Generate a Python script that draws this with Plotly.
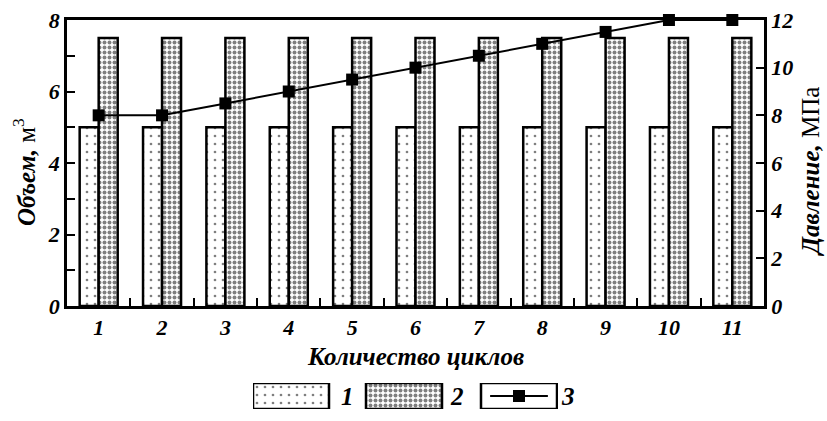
import plotly.graph_objects as go

# Data
cycles = ["1", "2", "3", "4", "5", "6", "7", "8", "9", "10", "11"]
volume_1 = [5, 5, 5, 5, 5, 5, 5, 5, 5, 5, 5]
volume_2 = [7.5, 7.5, 7.5, 7.5, 7.5, 7.5, 7.5, 7.5, 7.5, 7.5, 7.5]
pressure_3 = [8, 8, 8.5, 9, 9.5, 10, 10.5, 11, 11.5, 12, 12]
legend_labels = ["1", "2", "3"]

W, H = 827, 421
FONT = "Liberation Serif, Times New Roman, serif"

# plot area in pixels
PL, PR, PT, PB = 67, 764, 20, 306


def px(x):
    return x / W


def py(y):
    return 1 - y / H


tickfont = dict(family=FONT, size=22, color="black", weight="bold", style="italic")

PAT1 = dict(shape=".", fgcolor="black", bgcolor="white", size=8, solidity=0.09)
PAT2 = dict(shape=".", fgcolor="black", bgcolor="white", size=5, solidity=0.5)
OUTLINE = dict(color="black", width=2.5)

fig = go.Figure()

fig.add_trace(go.Bar(
    x=cycles, y=volume_1, name="1", showlegend=False,
    marker=dict(color="white", line=OUTLINE, pattern=PAT1),
))
fig.add_trace(go.Bar(
    x=cycles, y=volume_2, name="2", showlegend=False,
    marker=dict(color="white", line=OUTLINE, pattern=PAT2),
))
fig.add_trace(go.Scatter(
    x=cycles, y=pressure_3, name="3", yaxis="y2", showlegend=False,
    mode="lines+markers", line=dict(color="black", width=2),
    marker=dict(symbol="square", size=12, color="black"),
    cliponaxis=False,
))

# legend swatches drawn on their own small axes
LX0, LX1, LY0, LY1 = 253, 558, 383, 409
span = LX1 - LX0
sw_w = 76 / span
sw_centers = [38 / span, (366 + 38 - LX0) / span, (480 + 39 - LX0) / span]
fig.add_trace(go.Bar(
    x=[sw_centers[0]], y=[1], width=[sw_w], xaxis="x3", yaxis="y3", showlegend=False,
    marker=dict(color="white", line=OUTLINE, pattern=PAT1), hoverinfo="skip",
))
fig.add_trace(go.Bar(
    x=[sw_centers[1]], y=[1], width=[sw_w], xaxis="x3", yaxis="y3", showlegend=False,
    marker=dict(color="white", line=OUTLINE, pattern=PAT2), hoverinfo="skip",
))
fig.add_trace(go.Bar(
    x=[sw_centers[2]], y=[1], width=[sw_w], xaxis="x3", yaxis="y3", showlegend=False,
    marker=dict(color="white", line=OUTLINE), hoverinfo="skip",
))
fig.add_trace(go.Scatter(
    x=[sw_centers[2] - sw_w * 0.38, sw_centers[2] + sw_w * 0.38], y=[0.5, 0.5],
    xaxis="x3", yaxis="y3", mode="lines", line=dict(color="black", width=2),
    showlegend=False, hoverinfo="skip",
))
fig.add_trace(go.Scatter(
    x=[sw_centers[2]], y=[0.5], xaxis="x3", yaxis="y3", mode="markers",
    marker=dict(symbol="square", size=12, color="black"),
    showlegend=False, hoverinfo="skip",
))

fig.update_layout(
    width=W, height=H,
    margin=dict(l=0, r=0, t=0, b=0, pad=0, autoexpand=False),
    paper_bgcolor="white", plot_bgcolor="white",
    barmode="group", bargap=0.4, bargroupgap=0,
    showlegend=False,
    xaxis=dict(
        domain=[px(PL), px(PR)], anchor="y", automargin=False,
        type="category", range=[-0.5, len(cycles) - 0.5], tickfont=tickfont,
        showline=True, linecolor="black", linewidth=2.5, mirror=True,
        ticks="inside", tickson="boundaries", ticklen=8, tickwidth=2, tickcolor="black",
        showgrid=False, zeroline=False,
    ),
    yaxis=dict(
        domain=[py(PB), py(PT)], anchor="x", automargin=False,
        range=[0, 8], dtick=2, tickfont=tickfont,
        showline=True, linecolor="black", linewidth=2.5,
        ticks="inside", ticklen=8, tickwidth=2, tickcolor="black",
        minor=dict(dtick=1, ticks="inside", ticklen=8, tickwidth=2, tickcolor="black"),
        showgrid=False, zeroline=False,
    ),
    yaxis2=dict(
        overlaying="y", side="right", anchor="x", automargin=False,
        range=[0, 12], dtick=2, tickfont=tickfont,
        showline=True, linecolor="black", linewidth=2.5,
        ticks="inside", ticklen=8, tickwidth=2, tickcolor="black",
        showgrid=False, zeroline=False,
    ),
    xaxis3=dict(
        domain=[px(LX0), px(LX1)], anchor="y3", range=[0, 1], automargin=False,
        visible=False, fixedrange=True,
    ),
    yaxis3=dict(
        domain=[py(LY1), py(LY0)], anchor="x3", range=[0, 1], automargin=False,
        visible=False, fixedrange=True,
    ),
)

title_font = dict(family=FONT, size=25, color="black")
annotations = [
    dict(text="<b><i>Объем,</i></b> м<sup>3</sup>", x=px(24), y=py(172),
         textangle=-90, font=title_font),
    dict(text="<b><i>Давление,</i></b> МПа", x=px(810), y=py(172),
         textangle=-90, font=title_font),
    dict(text="<b><i>Количество циклов</i></b>", x=px((PL + PR) / 2), y=py(356),
         font=title_font),
]
for lbl, xc in zip(legend_labels, [347, 457, 568]):
    annotations.append(dict(text=f"<b><i>{lbl}</i></b>", x=px(xc), y=py(396), font=title_font))
for a in annotations:
    a.update(xref="paper", yref="paper", showarrow=False, xanchor="center", yanchor="middle")
fig.update_layout(annotations=annotations)

fig.write_html("out.html")
